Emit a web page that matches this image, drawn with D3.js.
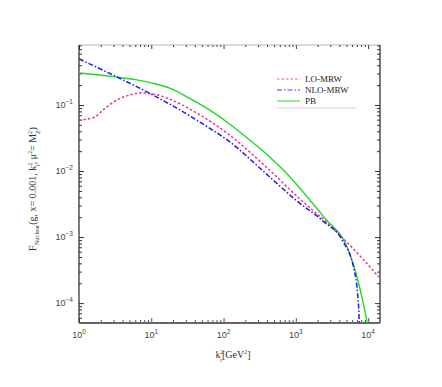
<!DOCTYPE html>
<html>
<head>
<meta charset="utf-8">
<script src="https://cdn.jsdelivr.net/npm/d3@7"></script>
<style>
  body { margin: 0; background: #fff; }
  .tick-label { font-family: "Liberation Sans", Arial, sans-serif; font-size: 9px; fill: #444; }
  .ax-title { font-family: "Liberation Serif", "Times New Roman", serif; font-size: 10px; fill: #333; }
  .legend { font-family: "Liberation Serif", "Times New Roman", serif; font-size: 9px; fill: #222; }
</style>
</head>
<body>
<div class="svg-container"></div>
<script>
var width = 442;
var height = 387;

var padding = { "top": 45, "right": 62, "bottom": 64, "left": 79 };

// values
var kLO  = [1, 1.66, 2.14, 3.34, 5.06, 6.9, 10.5, 16.3, 42.5, 121, 431, 1180, 2450, 7500, 14100];
var fLO  = [0.059, 0.066, 0.084, 0.119, 0.142, 0.152, 0.147, 0.128, 0.0757, 0.0351, 0.01035, 0.00364, 0.00182, 0.000536, 0.000248];

var kNLO = [1, 2.94, 10.5, 42.5, 121, 431, 1000, 2450, 4380, 6400, 7100, 7500, 7600];
var fNLO = [0.50, 0.285, 0.142, 0.059, 0.0278, 0.0082, 0.00363, 0.0017, 0.0009, 0.00032, 0.00015, 0.00006, 0.00003];

var kPB  = [1, 2.95, 6.3, 10, 18, 34, 63, 121, 230, 431, 800, 1410, 2450, 5470, 7080, 8800, 9700, 10500];
var fPB  = [0.305, 0.269, 0.240, 0.216, 0.180, 0.126, 0.085, 0.0515, 0.0295, 0.0165, 0.0085, 0.00417, 0.0020, 0.00059, 0.00024, 0.000087, 0.00005, 0.000028];

var seriesNames = ["LO-MRW", "NLO-MRW", "PB"];
var xMajor = [1, 10, 100, 1000, 10000];
var xExp   = ["0", "1", "2", "3", "4"];
var yMajor = [0.1, 0.01, 0.001, 0.0001];
var yExp   = ["\u22121", "\u22122", "\u22123", "\u22124"];

var svg = d3.select(".svg-container").append("svg")
            .attr("width", width)
            .attr("height", height);

svg.append("rect").attr("width", width).attr("height", height).attr("fill", "#fff");

var scaleX = d3.scaleLog()
               .domain([1, 14600])
               .range([padding.left, width - padding.right]);

var scaleY = d3.scaleLog()
               .domain([0.000050, 0.81])
               .range([height - padding.bottom, padding.top]);

var x0 = scaleX.range()[0], x1 = scaleX.range()[1];
var y0 = scaleY.range()[0], y1 = scaleY.range()[1];

// minor tick positions
function minors(lo, hi) {
  var out = [];
  for (var e = lo; e <= hi; e++) {
    for (var m = 2; m <= 9; m++) out.push(m * Math.pow(10, e));
  }
  return out;
}
var xMinor = minors(0, 4).filter(function(v) { return v < 14600; });
var yMinor = minors(-5, -1).filter(function(v) { return v > 0.00005 && v < 0.81; });

// clip
svg.append("clipPath").attr("id", "plot-clip")
   .append("rect").attr("x", x0).attr("y", y1).attr("width", x1 - x0).attr("height", y0 - y1);

// axes with inward ticks
function drawTicks(axisFn, scale, values, size, transform, stroke) {
  var g = svg.append("g")
             .attr("transform", transform)
             .call(axisFn(scale).tickValues(values).tickSize(size).tickFormat(""));
  g.select(".domain").remove();
  g.selectAll("line").attr("stroke", stroke || "#333").attr("stroke-width", 1);
  return g;
}

drawTicks(d3.axisBottom, scaleX, xMajor, -5, "translate(0," + y0 + ")", "#555");
drawTicks(d3.axisBottom, scaleX, xMinor, -3, "translate(0," + y0 + ")", "#555");
drawTicks(d3.axisTop, scaleX, xMajor, -4, "translate(0," + y1 + ")");
drawTicks(d3.axisTop, scaleX, xMinor, -2, "translate(0," + y1 + ")");
drawTicks(d3.axisLeft, scaleY, yMajor, -5, "translate(" + x0 + ",0)");
drawTicks(d3.axisLeft, scaleY, yMinor, -3, "translate(" + x0 + ",0)");
drawTicks(d3.axisRight, scaleY, yMajor, -5, "translate(" + x1 + ",0)");
drawTicks(d3.axisRight, scaleY, yMinor, -3, "translate(" + x1 + ",0)");

// frame
svg.append("line").attr("x1", x0).attr("x2", x0).attr("y1", y1).attr("y2", y0).attr("stroke", "#222").attr("stroke-width", 1.2);
svg.append("line").attr("x1", x1).attr("x2", x1).attr("y1", y1).attr("y2", y0).attr("stroke", "#222").attr("stroke-width", 1.2);
svg.append("line").attr("x1", x0).attr("x2", x1).attr("y1", y1).attr("y2", y1).attr("stroke", "#888").attr("stroke-width", 0.6);
svg.append("line").attr("x1", x0).attr("x2", x1).attr("y1", y0).attr("y2", y0).attr("stroke", "#666").attr("stroke-width", 2);

// tick labels
xMajor.forEach(function(v, i) {
  var t = svg.append("text").attr("class", "tick-label")
             .attr("x", scaleX(v)).attr("y", y0 + 15)
             .attr("text-anchor", "middle");
  t.append("tspan").text("10");
  t.append("tspan").attr("dy", -4).attr("font-size", "6.5px").text(xExp[i]);
});

yMajor.forEach(function(v, i) {
  var t = svg.append("text").attr("class", "tick-label")
             .attr("x", x0 - 6).attr("y", scaleY(v) + 3)
             .attr("text-anchor", "end");
  t.append("tspan").text("10");
  t.append("tspan").attr("dy", -4).attr("font-size", "6.5px").text(yExp[i]);
});

// axis titles
var xt = svg.append("text").attr("class", "ax-title")
            .attr("x", 233).attr("y", 358).attr("text-anchor", "middle");
xt.append("tspan").text("k");
xt.append("tspan").attr("font-size", "6px").attr("dy", -4).text("2");
xt.append("tspan").attr("font-size", "6px").attr("dx", -3.2).attr("dy", 8).text("t");
xt.append("tspan").attr("dy", -4).text("[GeV");
xt.append("tspan").attr("font-size", "6px").attr("dy", -4).text("2");
xt.append("tspan").attr("dy", 4).text("]");

var yt = svg.append("text").attr("class", "ax-title")
            .attr("transform", "translate(36,189) rotate(-90)")
            .attr("text-anchor", "middle");
yt.append("tspan").text("F");
yt.append("tspan").attr("font-size", "6.5px").attr("dy", 3).text("Nuclear");
yt.append("tspan").attr("dy", -3).text("(g, x= 0.001, k");
yt.append("tspan").attr("font-size", "6px").attr("dy", -4).text("2");
yt.append("tspan").attr("font-size", "6px").attr("dx", -3.2).attr("dy", 8).text("t");
yt.append("tspan").attr("dy", -4).text(", \u03bc");
yt.append("tspan").attr("font-size", "6px").attr("dy", -4).text("2");
yt.append("tspan").attr("dy", 4).text("= M");
yt.append("tspan").attr("font-size", "6px").attr("dy", -4).text("2");
yt.append("tspan").attr("font-size", "6px").attr("dx", -3.2).attr("dy", 8).text("Z");
yt.append("tspan").attr("dy", -4).text(")");

// curves
var line = d3.line()
             .x(function(d) { return scaleX(d[0]); })
             .y(function(d) { return scaleY(d[1]); })
             .curve(d3.curveMonotoneX);

function zip(a, b) { return a.map(function(v, i) { return [v, b[i]]; }); }

var curves = svg.append("g").attr("clip-path", "url(#plot-clip)");

var styles = [
  { data: zip(kPB, fPB),   stroke: "#22d822", dash: null,          width: 1.4, lg: "#7fe87f" },
  { data: zip(kLO, fLO),   stroke: "#f0329a", dash: "2.5,2",       width: 1.5, lg: "#f58cc8" },
  { data: zip(kNLO, fNLO), stroke: "#1c1cf0", dash: "5,2,1.5,2",   width: 1.5, lg: "#8080f5" }
];

styles.forEach(function(s) {
  curves.append("path")
        .datum(s.data)
        .attr("fill", "none")
        .attr("stroke", s.stroke)
        .attr("stroke-width", s.width)
        .attr("stroke-dasharray", s.dash)
        .attr("d", line);
});

// legend
var legendStyles = [styles[1], styles[2], styles[0]];
var legend = svg.append("g").attr("transform", "translate(277,79)");
legendStyles.forEach(function(s, i) {
  legend.append("line")
        .attr("x1", 0).attr("x2", 23).attr("y1", i * 11).attr("y2", i * 11)
        .attr("stroke", s.lg).attr("stroke-width", 1.6)
        .attr("stroke-dasharray", s.dash);
  legend.append("text").attr("class", "legend")
        .attr("x", 28).attr("y", i * 11 + 3)
        .text(seriesNames[i]);
});
legend.append("line").attr("x1", 0).attr("x2", 79).attr("y1", 29).attr("y2", 29)
      .attr("stroke", "#ccc").attr("stroke-width", 0.8);
</script>
</body>
</html>
